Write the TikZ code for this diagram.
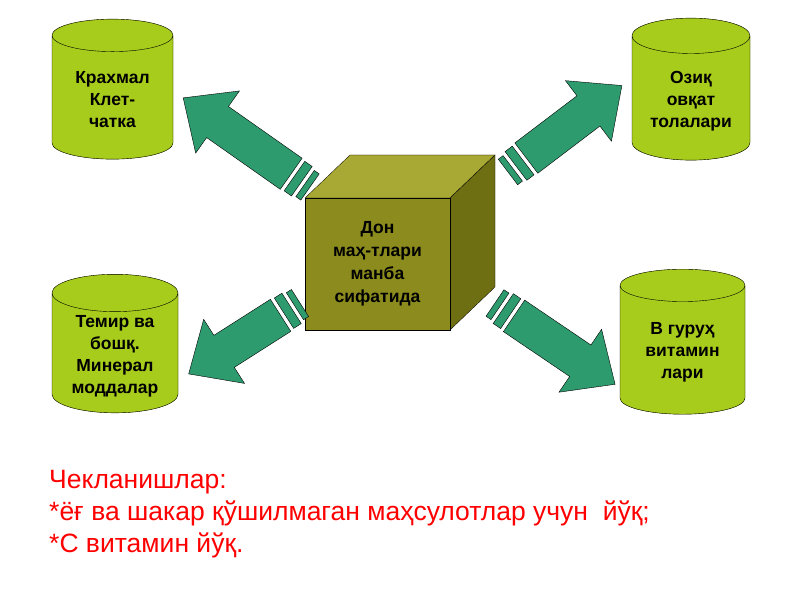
\documentclass[tikz,border=0pt]{standalone}
\usepackage{fontspec}
\setmainfont{Liberation Sans}
\usetikzlibrary{shapes.geometric}
\definecolor{cyl}{HTML}{A8CC1C}
\definecolor{cyltop}{HTML}{C4E03A}
\definecolor{arr}{HTML}{2E9B6E}
\definecolor{cf}{HTML}{8C8C1E}
\definecolor{ct}{HTML}{A8A834}
\definecolor{cs}{HTML}{6E6E12}
\begin{document}
\begin{tikzpicture}[x=1pt,y=1pt,
  can/.style={cylinder,shape border rotate=90,aspect=0.4,draw=black,fill=cyl,cylinder uses custom fill,cylinder body fill=cyl,cylinder end fill=cyltop,align=center,font=\bfseries\fontsize{17.5}{22}\selectfont},
  pics/bigarrow/.style={code={
    \fill[arr,draw=black,line width=0.4pt] (0,-16) rectangle (6,16);
    \fill[arr,draw=black,line width=0.4pt] (10,-18) rectangle (19,18);
    \fill[arr,draw=black,line width=0.4pt] (23,-19) -- (#1-42,-19) -- (#1-42,-38) -- (#1,0) -- (#1-42,38) -- (#1-42,19) -- (23,19) -- cycle;
  }}]
\useasboundingbox (0,0) rectangle (800,600);
\node[can,minimum width=121,minimum height=140] (a) at (112.5,500) {Крахмал\\Клет-\\чатка};
\node[can,minimum width=118,minimum height=142] (b) at (691,499) {Озиқ\\овқат\\толалари};
\node[can,minimum width=126,minimum height=138] (c) at (115,244) {Темир ва\\бошқ.\\Минерал\\моддалар};
\node[can,minimum width=125,minimum height=145] (d) at (682.5,247.5) {В гуруҳ\\витамин\\лари};
% cube
\fill[ct,draw=black,line width=0.3pt] (305,402) -- (350,445) -- (495,445) -- (450,402) -- cycle;
\fill[cs,draw=black,line width=0.3pt] (450,402) -- (495,445) -- (495,313) -- (450,270) -- cycle;
\node[draw=black,line width=0.3pt,fill=cf,minimum width=145,minimum height=132,inner sep=0,align=center,font=\bfseries\fontsize{17.5}{23}\selectfont] (e) at (377.5,336) {Дон\\маҳ-тлари\\манба\\сифатида};
\pic[rotate=144.9] at (310,413) {bigarrow=155};
\pic[rotate=37.2] at (508,428) {bigarrow=143};
\pic[rotate=212.5] at (300,297) {bigarrow=132};
\pic[rotate=-34.1] at (495,297) {bigarrow=145};
\node[anchor=north west,align=left,text=red,font=\fontsize{26.5}{32}\selectfont,inner sep=0] (t) at (49,130) {Чекланишлар:\\*ёғ ва шакар қўшилмаган маҳсулотлар учун \ йўқ;\\*С витамин йўқ.};
\end{tikzpicture}
\end{document}
